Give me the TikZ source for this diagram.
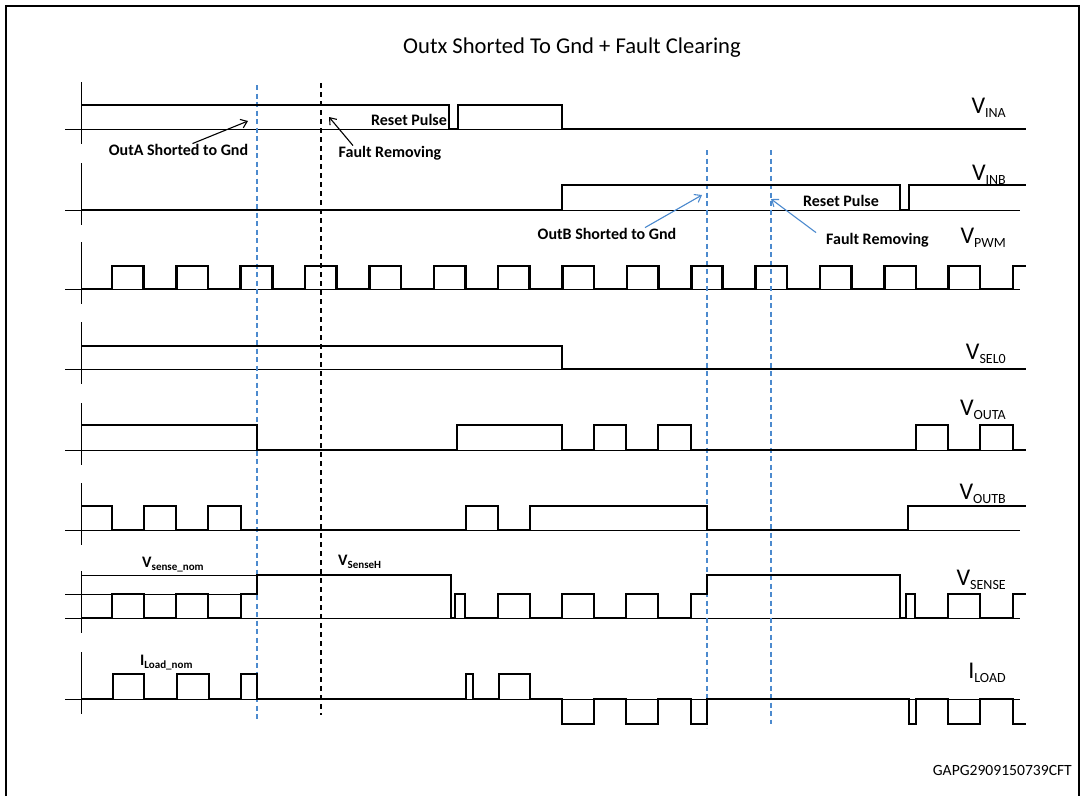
\documentclass[tikz,border=0pt]{standalone}
\usepackage{fontspec}
\setmainfont{Carlito}
\usetikzlibrary{arrows.meta,positioning}
\definecolor{markblue}{RGB}{76,138,206}
\newcommand\sig[2]{{\fontsize{24}{26}\selectfont #1}\raisebox{-4pt}{\fontsize{14}{15}\selectfont #2}}
\newcommand\bsig[2]{{\fontsize{16}{18}\selectfont\bfseries #1\raisebox{-3pt}{\fontsize{11}{12}\selectfont #2}}}

\begin{document}
\begin{tikzpicture}[x=1pt,y=-1pt,
    wave/.style={line width=2.6pt},
    thinln/.style={line width=1pt},
    bluedash/.style={markblue,line width=1.3pt,dash pattern=on 5pt off 3.5pt},
    blackdash/.style={black,line width=1.1pt,dash pattern=on 5pt off 4pt},
    note/.style={font=\fontsize{16}{18}\selectfont\bfseries,inner sep=0pt,anchor=base},
    siglabel/.style={inner sep=0pt,anchor=base east},
    >={Straight Barb[length=6pt,width=9pt]},
    arr/.style={->,line width=1.1pt},
    barr/.style={->,line width=1.1pt,markblue}
  ]
  \useasboundingbox (0,0) rectangle (1085,796);
  \draw[line width=2.4pt] (6,796) -- (6,6) -- (1079,6) -- (1079,796);

  \node[font=\fontsize{22.6}{26}\selectfont] (title) at (572,48) {Outx Shorted To Gnd + Fault Clearing};

  % axes and zero lines
  \foreach \b in {129,210,289,369,450,530,618,699} {
    \draw[thinln] (81,{\b-47}) -- (81,{\b+15});
    \draw[thinln] (65,\b) -- (1020,\b);
  }
  \draw[thinln] (65,594) -- (257,594);
  \draw[thinln] (81,575) -- (257,575);

  % event markers
  \draw[bluedash] (257,85) -- (257,722);
  \draw[blackdash] (321,83) -- (321,715);
  \draw[bluedash] (707,150) -- (707,728);
  \draw[bluedash] (771,150) -- (771,724);

  % waveforms
  \draw[wave] (81,105) -| (449,129) -| (458,105) -| (562,129) -- (1026,129);
  \draw[wave] (81,210) -| (562,185) -| (900,210) -| (909,185) -- (1026,185);
  \draw[wave] (81,289) \foreach \k in {0,...,13} { -| ({112+64.36*\k},266) -| ({143.5+64.36*\k},289) }
    -| (1013,266) -- (1026,266);
  \draw[wave] (81,346) -| (562,369) -- (1026,369);
  \draw[wave] (81,425) -| (257,450) -| (457,425) -| (562,450) -| (594,425) -| (626,450)
    -| (658,425) -| (691,450) -| (916,425) -| (948,450) -| (980,425) -| (1013,450) -- (1026,450);
  \draw[wave] (81,506) -| (112,530) -| (144,506) -| (176,530) -| (208,506) -| (241,530)
    -| (466,506) -| (498,530) -| (530,506) -| (707,530) -| (908,506) -- (1026,506);
  \draw[wave] (81,618) -| (112,594) -| (144,618) -| (176,594) -| (208,618) -| (241,594)
    -| (257,575) -| (451,618) -| (455,594) -| (465,618) -| (498,594) -| (530,618)
    -| (562,594) -| (594,618) -| (626,594) -| (658,618) -| (691,594) -| (707,575)
    -| (900,618) -| (906,594) -| (915,618) -| (948,594) -| (980,618) -| (1013,594) -- (1026,594);
  \draw[wave] (81,699) -| (113,674) -| (144,699) -| (177,674) -| (209,699) -| (241,674)
    -| (257,699) -| (466,674) -| (473,699) -| (499,674) -| (530,699) -| (562,724)
    -| (594,699) -| (626,724) -| (658,699) -| (691,724) -| (707,699) -| (909,724)
    -| (916,699) -| (948,724) -| (980,699) -| (1013,724) -- (1026,724);

  % signal names
  \node[siglabel] (lina)   at (1006,113) {\sig{V}{INA}};
  \node[siglabel] (linb)   at (1006,180) {\sig{V}{INB}};
  \node[siglabel] (lpwm)   at (1006,243) {\sig{V}{PWM}};
  \node[siglabel] (lsel)   at (1006,359) {\sig{V}{SEL0}};
  \node[siglabel] (louta)  at (1006,415) {\sig{V}{OUTA}};
  \node[siglabel] (loutb)  at (1006,499) {\sig{V}{OUTB}};
  \node[siglabel] (lsense) at (1006,585) {\sig{V}{SENSE}};
  \node[siglabel] (lload)  at (1006,678) {\sig{I}{LOAD}};

  \node[inner sep=0pt,anchor=base west] (vnom)  at (142,567) {\bsig{V}{sense\_nom}};
  \node[inner sep=0pt,anchor=base west] (vhigh) at (338,565) {\bsig{V}{SenseH}};
  \node[inner sep=0pt,anchor=base west] (inom)  at (140,665) {\bsig{I}{Load\_nom}};

  % fault annotations
  \node[note] (shortA) at (178.5,155) {OutA Shorted to Gnd};
  \node[note] (faultA) at (390,157) {Fault Removing};
  \node[note] (resetA) at (409,125) {Reset Pulse};
  \node[note] (shortB) at (607,239) {OutB Shorted to Gnd};
  \node[note] (faultB) at (877.5,244) {Fault Removing};
  \node[note] (resetB) at (841,206.5) {Reset Pulse};

  \coordinate (tipA)  at (248,121);
  \coordinate (tipFA) at (329,117);
  \coordinate (tipB)  at (702,195);
  \coordinate (tipFB) at (771,199);
  \draw[arr]  ([xshift=14pt]shortA.north) -- (tipA);
  \draw[arr]  ([xshift=-37pt]faultA.north) -- (tipFA);
  \draw[barr] ([xshift=38pt]shortB.north) -- (tipB);
  \draw[barr] ([xshift=-10pt]faultB.north west) -- (tipFB);

  \node[font=\fontsize{15.6}{18}\selectfont,inner sep=0pt,anchor=base east] (code) at (1072,775) {GAPG2909150739CFT};
\end{tikzpicture}
\end{document}
